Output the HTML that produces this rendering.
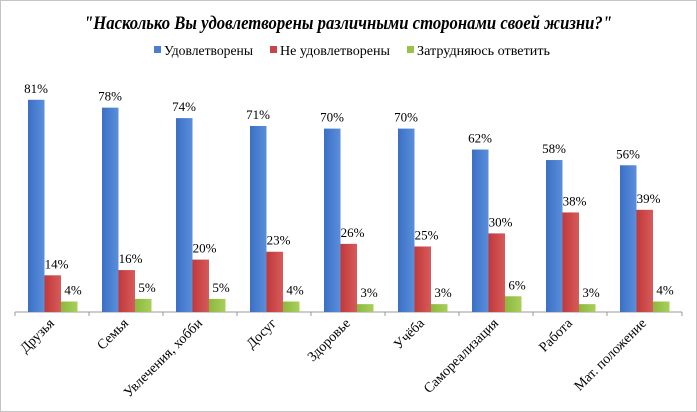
<!DOCTYPE html>
<html><head><meta charset="utf-8"><style>
body{margin:0;background:#fff}
svg{display:block}
text{font-family:"Liberation Serif",serif;fill:#000}
</style></head><body>
<svg width="697" height="412" viewBox="0 0 697 412">
<defs>
<linearGradient id="b" x1="0" x2="1"><stop offset="0" stop-color="#3a6fc4"/><stop offset="1" stop-color="#5b8fdc"/></linearGradient>
<linearGradient id="r" x1="0" x2="1"><stop offset="0" stop-color="#c0393a"/><stop offset="1" stop-color="#d85a5a"/></linearGradient>
<linearGradient id="g" x1="0" x2="1"><stop offset="0" stop-color="#8cb83e"/><stop offset="1" stop-color="#a8cf5a"/></linearGradient>
</defs>
<rect x="0.5" y="0.5" width="696" height="411" fill="#fff" stroke="#888" stroke-dasharray="1,1"/>
<text x="84" y="29" font-size="19" font-weight="bold" font-style="italic" textLength="528" lengthAdjust="spacingAndGlyphs">"Насколько Вы удовлетворены различными сторонами своей жизни?"</text>
<g font-size="14">
<rect x="154" y="46" width="7" height="7" fill="#4a7fd0"/><text x="164" y="55" textLength="89" lengthAdjust="spacingAndGlyphs">Удовлетворены</text>
<rect x="270" y="46" width="7" height="7" fill="#c94545"/><text x="280" y="55" textLength="110" lengthAdjust="spacingAndGlyphs">Не удовлетворены</text>
<rect x="407" y="46" width="7" height="7" fill="#98c34a"/><text x="417" y="55" textLength="133" lengthAdjust="spacingAndGlyphs">Затрудняюсь ответить</text>
</g>
<line x1="15" y1="312" x2="682" y2="312" stroke="#999"/>
<g id="bars" font-size="13"></g>
</svg>
<script>
var d=[["Друзья",81,14,4],["Семья",78,16,5],["Увлечения, хобби",74,20,5],["Досуг",71,23,4],["Здоровье",70,26,3],["Учёба",70,25,3],["Самореализация",62,30,6],["Работа",58,38,3],["Мат. положение",56,39,4]];
var g=document.getElementById("bars"),s="",base=312,k=2.62;
d.forEach(function(c,i){var x0=15+i*74;s+='<line x1="'+x0+'" y1="312" x2="'+x0+'" y2="316" stroke="#999"/>';
["b","r","g"].forEach(function(f,j){var v=c[j+1],h=v*k,x=x0+13+j*16.5;
s+='<rect x="'+x+'" y="'+(base-h)+'" width="16.5" height="'+h+'" fill="url(#'+f+')"/>';
s+='<text x="'+(x+8+(j?4:0))+'" y="'+(base-h-7)+'" text-anchor="middle">'+v+'%</text>';});
var cx=x0+40;s+='<text transform="translate('+cx+',324) rotate(-45)" text-anchor="end" font-size="14">'+c[0]+'</text>';});
s+='<line x1="682" y1="312" x2="682" y2="316" stroke="#999"/>';
g.innerHTML=s;
</script>
</body></html>
